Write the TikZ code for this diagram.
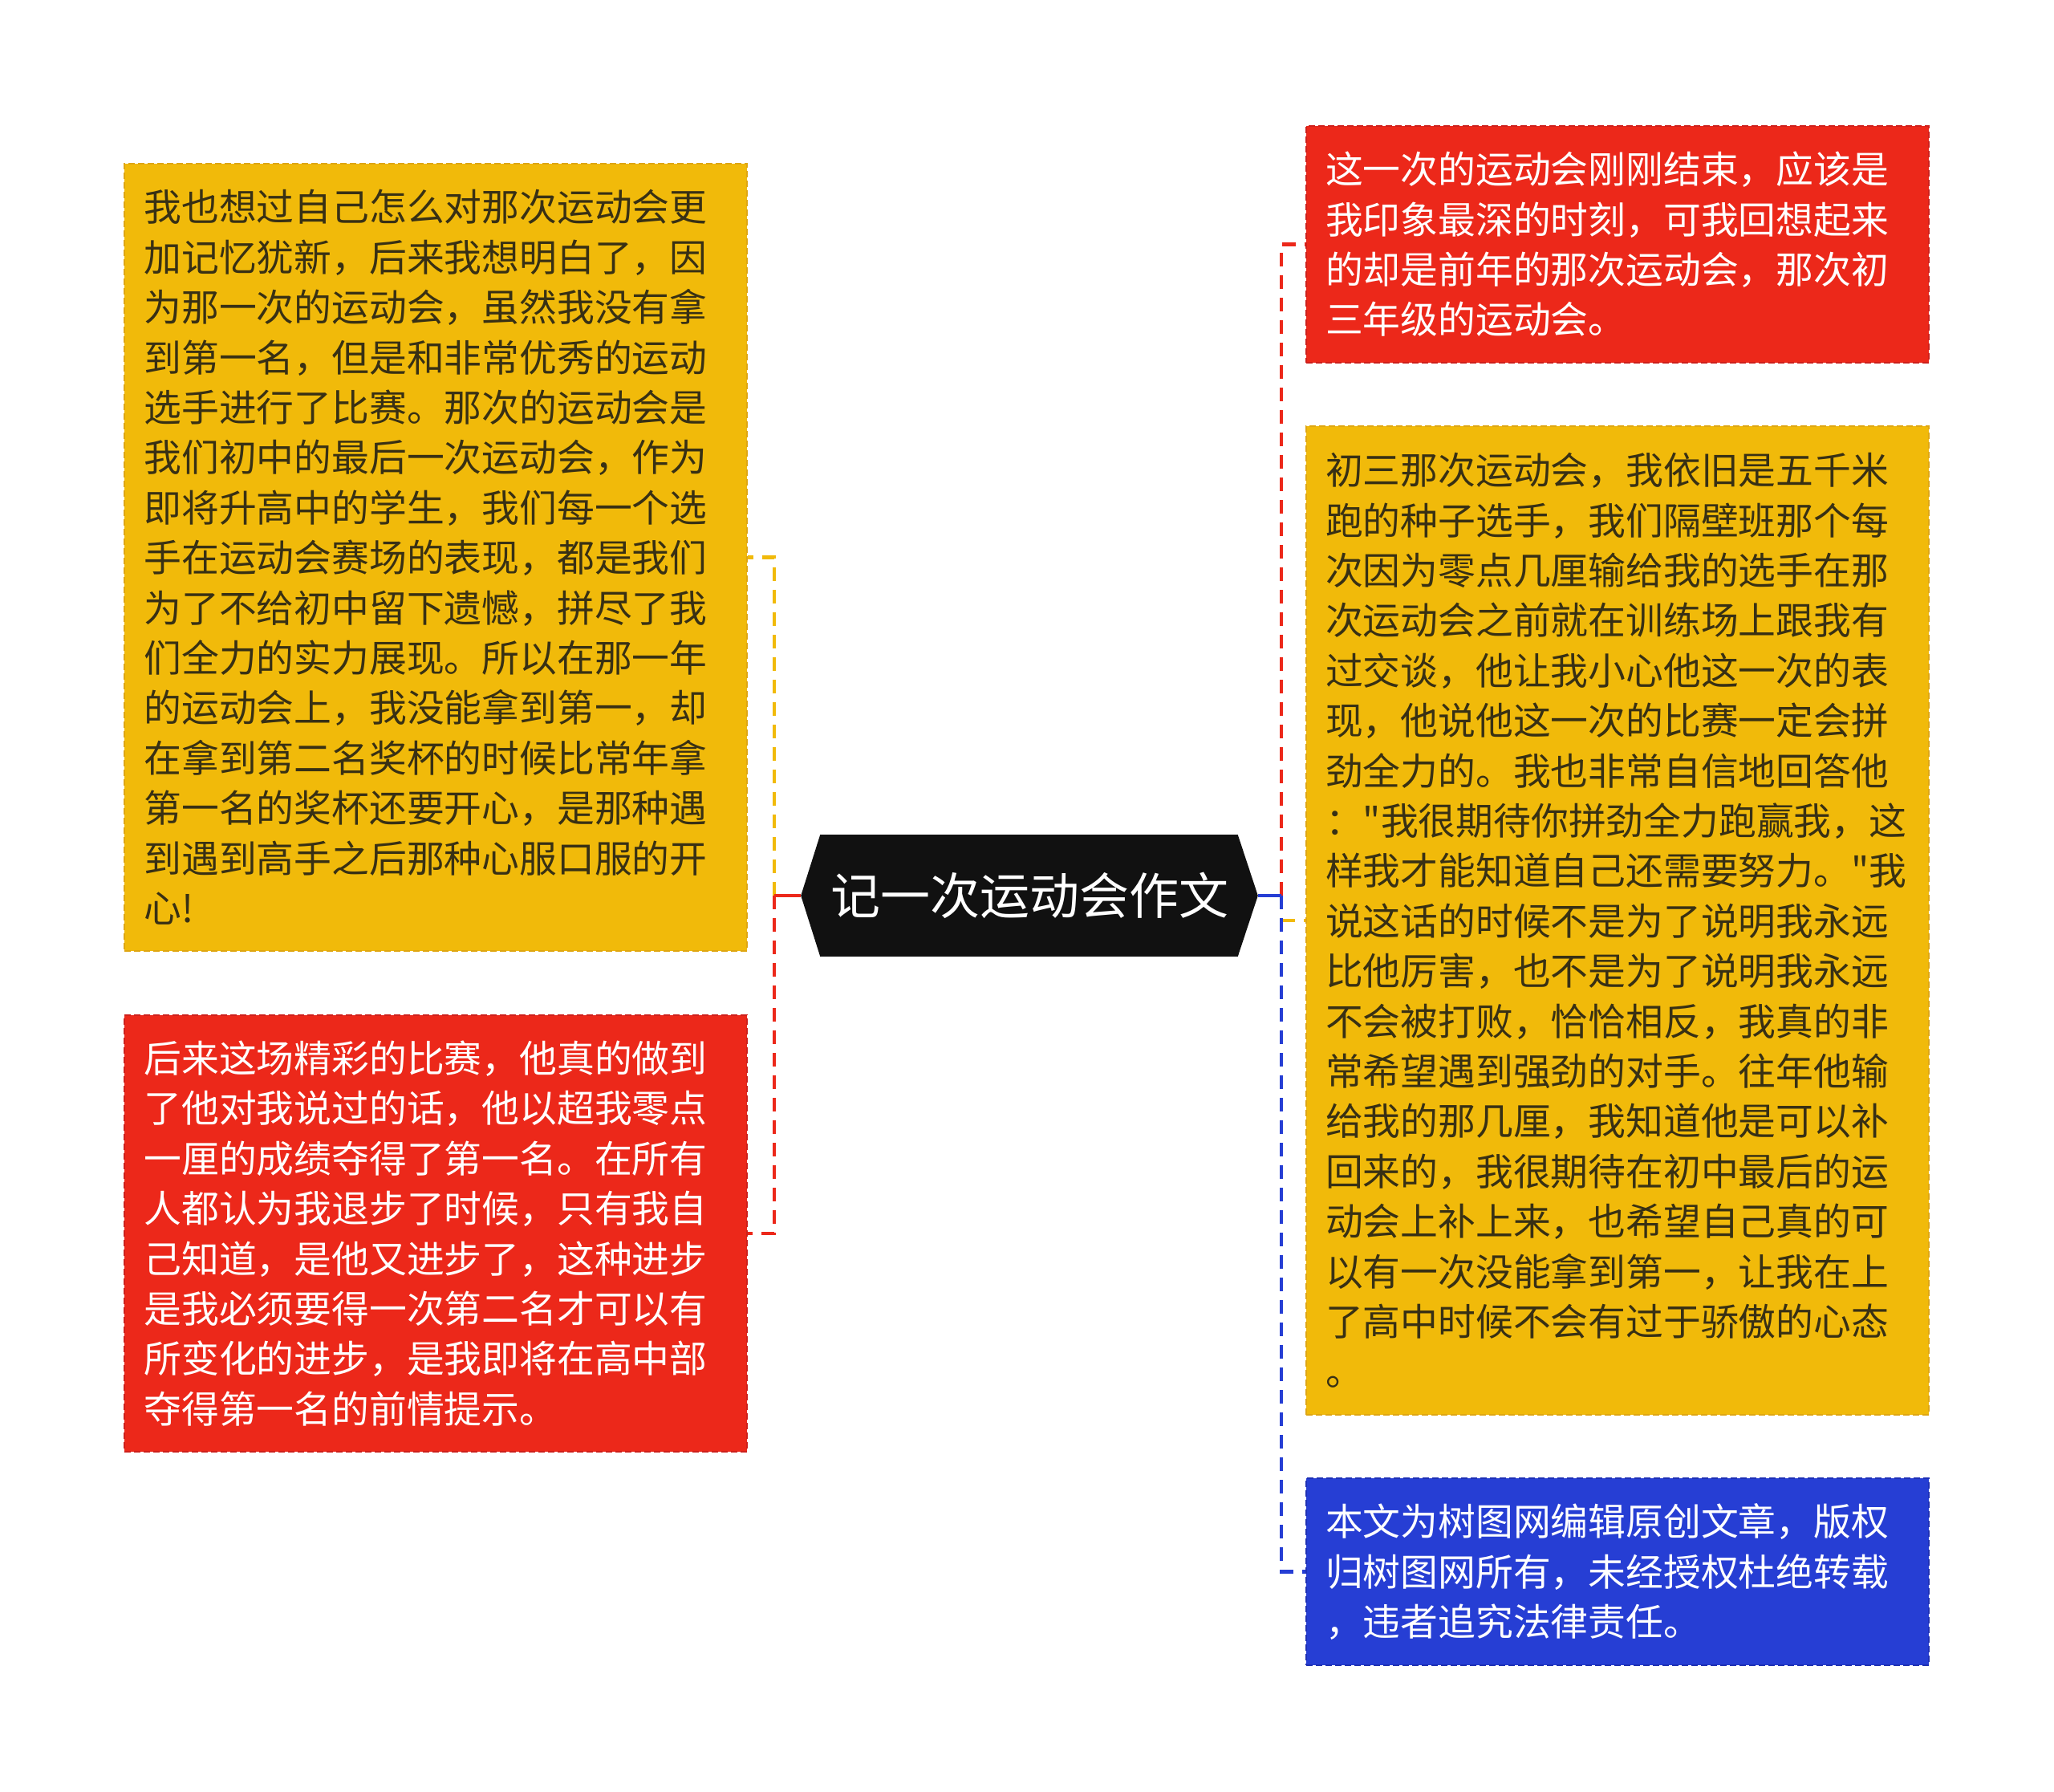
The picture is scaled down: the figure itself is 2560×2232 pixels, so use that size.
\documentclass[tikz,border=0pt]{standalone}
\usepackage{fontspec}
\newfontfamily\cjk{Noto Sans CJK SC}
\definecolor{ylwfill}{RGB}{241,186,10}
\definecolor{ylwline}{RGB}{222,166,20}
\definecolor{redfill}{RGB}{236,40,26}
\definecolor{redline}{RGB}{205,32,28}
\definecolor{bluefill}{RGB}{38,62,212}
\definecolor{blueline}{RGB}{30,48,180}
\definecolor{darktext}{RGB}{56,48,20}
\definecolor{rootfill}{RGB}{17,17,17}
\tikzset{
  card/.style={rectangle, draw, line width=0.5pt, dash pattern=on 2pt off 1pt,
    text width=181.75pt, inner xsep=6.125pt, inner ysep=0pt, align=left,
    minimum width=194pt, anchor=center,
    font=\cjk\fontsize{11.7pt}{15.6pt}\selectfont},
  ycard/.style={card, fill=ylwfill, draw=ylwline, text=darktext},
  rcard/.style={card, fill=redfill, draw=redline, text=white},
  bcard/.style={card, fill=bluefill, draw=blueline, text=white},
  link/.style={line width=1.1pt, dash pattern=on 4.25pt off 2.75pt},
  stub/.style={line width=1.1pt},
}
\begin{document}
\begin{tikzpicture}[x=0.25pt,y=-0.25pt]
\useasboundingbox (0,0) rectangle (2560,2232);

% root
\node[minimum width=142pt, minimum height=37.5pt, inner sep=0pt, text=white,
  font=\cjk\fontsize{15.6pt}{18pt}\selectfont] (root) at (1283,1116) {};
\fill[rootfill] (root.west) -- ([xshift=6pt]root.north west) -- ([xshift=-6.25pt]root.north east)
  -- (root.east) -- ([xshift=-6.25pt]root.south east) -- ([xshift=6pt]root.south west) -- cycle;
\node[text=white, font=\cjk\fontsize{15.5pt}{18pt}\selectfont] (rootlabel) at (root.center) {记一次运动会作文};

% cards
\node[ycard, minimum height=245.25pt] (ly) at (543,694.5) {我也想过自己怎么对那次运动会更\\加记忆犹新，后来我想明白了，因\\为那一次的运动会，虽然我没有拿\\到第一名，但是和非常优秀的运动\\选手进行了比赛。那次的运动会是\\我们初中的最后一次运动会，作为\\即将升高中的学生，我们每一个选\\手在运动会赛场的表现，都是我们\\为了不给初中留下遗憾，拼尽了我\\们全力的实力展现。所以在那一年\\的运动会上，我没能拿到第一，却\\在拿到第二名奖杯的时候比常年拿\\第一名的奖杯还要开心，是那种遇\\到遇到高手之后那种心服口服的开\\心!};

\node[rcard, minimum height=136pt] (lr) at (543,1537) {后来这场精彩的比赛，他真的做到\\了他对我说过的话，他以超我零点\\一厘的成绩夺得了第一名。在所有\\人都认为我退步了时候，只有我自\\己知道，是他又进步了，这种进步\\是我必须要得一次第二名才可以有\\所变化的进步，是我即将在高中部\\夺得第一名的前情提示。};

\node[rcard, minimum height=73.75pt] (rr) at (2015.5,304.5) {这一次的运动会刚刚结束，应该是\\我印象最深的时刻，可我回想起来\\的却是前年的那次运动会，那次初\\三年级的运动会。};

\node[ycard, minimum height=308pt] (ry) at (2015.5,1147) {初三那次运动会，我依旧是五千米\\跑的种子选手，我们隔壁班那个每\\次因为零点几厘输给我的选手在那\\次运动会之前就在训练场上跟我有\\过交谈，他让我小心他这一次的表\\现，他说他这一次的比赛一定会拼\\劲全力的。我也非常自信地回答他\\："我很期待你拼劲全力跑赢我，这\\样我才能知道自己还需要努力。"我\\说这话的时候不是为了说明我永远\\比他厉害，也不是为了说明我永远\\不会被打败，恰恰相反，我真的非\\常希望遇到强劲的对手。往年他输\\给我的那几厘，我知道他是可以补\\回来的，我很期待在初中最后的运\\动会上补上来，也希望自己真的可\\以有一次没能拿到第一，让我在上\\了高中时候不会有过于骄傲的心态\\。};

\node[bcard, minimum height=58.25pt] (rb) at (2015.5,1958.5) {本文为树图网编辑原创文章，版权\\归树图网所有，未经授权杜绝转载\\，违者追究法律责任。};

% buses
\coordinate (Lbus) at (965,1116);
\coordinate (Rbus) at (1597,1116);

% left connectors
\draw[link, draw=ylwfill] (Lbus) -- (Lbus |- ly.east) -- (ly.east);
\draw[link, draw=redfill] (Lbus) -- (Lbus |- lr.east) -- (lr.east);
\draw[stub, draw=redfill] (root.west) -- (Lbus);

% right connectors
\draw[link, draw=redfill] (Rbus) -- (Rbus |- rr.west) -- (rr.west);
\draw[link, draw=ylwfill] (Rbus |- ry.west) -- (ry.west);
\draw[link, draw=bluefill] (Rbus) -- (Rbus |- rb.west) -- (rb.west);
\draw[stub, draw=bluefill] (root.east) -- (Rbus);
\end{tikzpicture}
\end{document}
